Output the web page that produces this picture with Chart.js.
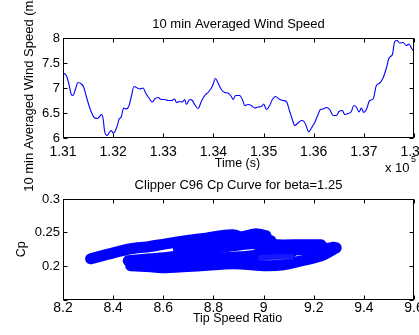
<!DOCTYPE html>
<html><head><meta charset="utf-8">
<script src="https://cdn.jsdelivr.net/npm/chart.js@4/dist/chart.umd.min.js"></script>
<style>
html,body{margin:0;padding:0;background:#fff;width:419px;height:335px;overflow:hidden;position:relative}
canvas{position:absolute;left:0}
#c1{top:0;z-index:2}
#c2{top:170px;z-index:1}
</style></head><body>
<canvas id="c2" width="419" height="165"></canvas>
<canvas id="c1" width="419" height="200"></canvas>
<script>
// ---- Top chart data: 10 min averaged wind speed ----
const windTime = [131000,131066,131113,131166,131199,131246,131299,131366,131412,131465,131545,131632,131685,131731,131765,131798,131831,131878,131931,131964,131997,132031,132077,132117,132164,132210,132263,132310,132363,132416,132463,132529,132596,132649,132715,132782,132828,132895,132961,133028,133094,133161,133227,133261,133327,133380,133427,133460,133527,133580,133626,133693,133759,133826,133892,133959,133992,134039,134092,134158,134225,134291,134358,134391,134444,134524,134577,134624,134690,134757,134823,134890,134956,135003,135056,135122,135176,135242,135309,135388,135455,135521,135574,135621,135688,135754,135807,135854,135900,135954,136020,136086,136133,136186,136253,136319,136386,136452,136505,136572,136618,136685,136751,136798,136851,136904,136951,136997,137051,137117,137184,137250,137317,137383,137450,137503,137569,137616,137662,137715,137782,137848,137902,137948,138000];
const windSpeed = [7.30,7.25,7.10,6.87,6.85,6.97,7.11,7.08,7.02,6.83,6.57,6.40,6.39,6.43,6.47,6.40,6.13,6.05,6.12,6.15,6.10,6.12,6.23,6.37,6.43,6.60,6.58,6.63,6.83,7.03,7.01,6.98,7.00,6.90,6.80,6.72,6.78,6.81,6.77,6.77,6.75,6.75,6.78,6.71,6.73,6.72,6.77,6.67,6.77,6.75,6.67,6.59,6.73,6.85,6.91,7.00,7.07,7.19,7.10,6.97,6.91,6.90,6.83,6.77,6.85,6.85,6.77,6.65,6.67,6.65,6.60,6.62,6.63,6.68,6.57,6.65,6.77,6.83,6.78,6.75,6.73,6.53,6.37,6.25,6.30,6.35,6.33,6.23,6.12,6.20,6.31,6.47,6.57,6.58,6.61,6.57,6.45,6.45,6.53,6.55,6.47,6.49,6.53,6.65,6.62,6.52,6.60,6.51,6.57,6.75,6.78,7.05,7.10,7.20,7.40,7.60,7.67,7.93,7.95,7.90,7.91,7.85,7.88,7.80,7.73];
const timeTicks = [131000,132000,133000,134000,135000,136000,137000,138000];
const speedTicks = [6,6.5,7,7.5,8];

// ---- Bottom chart data: Cp vs tip speed ratio traces ----
const tsrA = [8.31,8.40,8.47,8.54,8.61,8.69,8.75,8.83,8.88,8.91,8.97,9.01];
const cpA  = [0.2107,0.2197,0.2257,0.2287,0.2331,0.2376,0.2406,0.2452,0.2467,0.2436,0.2482,0.2452];
const tsrB = [8.46,8.55,8.63,8.69,8.75,8.85,8.95,9.05,9.15,9.23];
const cpB  = [0.2077,0.2107,0.2137,0.2182,0.2242,0.2287,0.2331,0.2316,0.2316,0.2316];
const tsrC = [8.47,8.55,8.61,8.75,8.88,9.01,9.08,9.15,9.23,9.29];
const cpC  = [0.2003,0.1988,0.1973,0.2003,0.2033,0.2003,0.2018,0.2077,0.2152,0.2272];
const tsrD = [8.55,8.69,8.81,8.91,8.99,9.11];
const cpD  = [0.2033,0.2092,0.2122,0.2137,0.2167,0.2197];
const tsrE = [8.66,8.75,8.87,8.97,9.03];
const cpE  = [0.2257,0.2316,0.2376,0.2406,0.2376];
const tsrF = [8.98,9.11,9.23,9.28];
const cpF  = [0.2197,0.2227,0.2257,0.2287];
const tsrG = [8.99,9.11];
const cpG  = [0.2122,0.2137];
const tsrTicks = [8.2,8.4,8.6,8.8,9,9.2,9.4,9.6];
const cpTicks = [0.15,0.2,0.25,0.3];

const FONT = '"Liberation Sans", Arial, Helvetica, sans-serif';
const BLUE = '#0000ff';

function pts(xs, ys){ return xs.map((x,i)=>({x:x, y:ys[i]})); }

function frameTicks(chart, len){
  const {ctx, chartArea:a, scales} = chart;
  const L = Math.round(a.left)+0.5, R = Math.round(a.right)-0.5, T = Math.round(a.top)+0.5, B = Math.round(a.bottom)-0.5;
  ctx.save();
  ctx.strokeStyle = '#000'; ctx.lineWidth = 1;
  ctx.beginPath();
  scales.x.ticks.forEach(t=>{ const p = Math.round(scales.x.getPixelForValue(t.value))+0.5; ctx.moveTo(p,B); ctx.lineTo(p,B-len); ctx.moveTo(p,T); ctx.lineTo(p,T+len); });
  scales.y.ticks.forEach(t=>{ const p = Math.round(scales.y.getPixelForValue(t.value))+0.5; ctx.moveTo(L,p); ctx.lineTo(L+len,p); ctx.moveTo(R,p); ctx.lineTo(R-len,p); });
  ctx.stroke();
  ctx.strokeRect(L, T, R-L, B-T);
  ctx.restore();
}
function txt(ctx, s, x, y, size, rot, align){
  ctx.save();
  ctx.fillStyle = '#000';
  ctx.font = size + 'px ' + FONT;
  ctx.textAlign = align || 'center';
  ctx.textBaseline = 'middle';
  ctx.translate(x, y);
  if (rot) ctx.rotate(rot);
  ctx.fillText(s, 0, 0);
  ctx.restore();
}
function fixX(h){ return function(s){ s.height = h; s.paddingLeft = 0; s.paddingRight = 0; }; }
function fixY(w){ return function(s){ s.width = w; s.paddingTop = 0; s.paddingBottom = 0; }; }
const xTickFont = {family: FONT, size: 14};
const yTickFont = {family: FONT, size: 13};
const noGrid = { display: false, drawTicks: false };

// ---- Top chart ----
new Chart(document.getElementById('c1'), {
  type: 'line',
  data: { datasets: [{ data: pts(windTime, windSpeed), borderColor: BLUE, borderWidth: 1.1, pointRadius: 0, cubicInterpolationMode: 'monotone', fill: false }] },
  options: {
    responsive: false, animation: false, devicePixelRatio: 1,
    layout: { padding: { left: 0, right: 5, top: 38, bottom: 32 } },
    plugins: { legend: { display: false }, tooltip: { enabled: false }, title: { display: false } },
    scales: {
      x: { type: 'linear', min: 131000, max: 138000,
           afterBuildTicks: s => { s.ticks = timeTicks.map(v=>({value:v})); },
           afterFit: fixX(30),
           grid: noGrid, border: { display: false },
           ticks: { font: xTickFont, color: '#000', padding: 6, maxRotation: 0, autoSkip: false,
                    callback: v => (v/1e5).toFixed(2) } },
      y: { type: 'linear', min: 6, max: 8,
           afterBuildTicks: s => { s.ticks = speedTicks.map(v=>({value:v})); },
           afterFit: fixY(63),
           grid: noGrid, border: { display: false },
           ticks: { font: yTickFont, color: '#000', padding: 3, autoSkip: false, callback: v => String(v) } }
    }
  },
  plugins: [{
    id: 'deco1',
    afterDraw(chart){
      const ctx = chart.ctx, a = chart.chartArea;
      frameTicks(chart, 4);
      const cx = (a.left + a.right)/2;
      txt(ctx, '10 min Averaged Wind Speed', cx, 24.5, 13);
      txt(ctx, 'Time (s)', cx - 1, 164, 12.5);
      txt(ctx, '10 min Averaged Wind Speed (m/s)', 29.5, (a.top + a.bottom)/2 + 1, 13, -Math.PI/2);
      txt(ctx, 'x 10', 385, 168.5, 13, 0, 'left');
      txt(ctx, '5', 411, 160, 9, 0, 'left');
    }
  }]
});

// ---- Bottom chart ----
const band = (xs, ys, w, c) => ({ data: pts(xs, ys), showLine: true, borderColor: c || BLUE, backgroundColor: c || BLUE,
  borderWidth: w, pointRadius: 0, borderCapStyle: 'round', borderJoinStyle: 'round', fill: false, tension: 0.25 });
new Chart(document.getElementById('c2'), {
  type: 'scatter',
  data: { datasets: [
    band(tsrG, cpG, 6, 'rgba(30,30,255,0.75)'),
    band(tsrA, cpA, 11), band(tsrB, cpB, 11), band(tsrC, cpC, 11),
    band(tsrD, cpD, 11), band(tsrE, cpE, 11), band(tsrF, cpF, 10)
  ] },
  options: {
    responsive: false, animation: false, devicePixelRatio: 1,
    layout: { padding: { left: 0, right: 5, top: 29, bottom: 15.5 } },
    plugins: { legend: { display: false }, tooltip: { enabled: false }, title: { display: false } },
    scales: {
      x: { type: 'linear', min: 8.2, max: 9.6,
           afterBuildTicks: s => { s.ticks = tsrTicks.map(v=>({value:v})); },
           afterFit: fixX(20),
           grid: noGrid, border: { display: false },
           ticks: { font: xTickFont, color: '#000', padding: 0, maxRotation: 0, autoSkip: false,
                    callback: v => String(Number(v.toFixed(1))) } },
      y: { type: 'linear', min: 0.15, max: 0.3,
           afterBuildTicks: s => { s.ticks = cpTicks.map(v=>({value:v})); },
           afterFit: fixY(63),
           grid: noGrid, border: { display: false },
           ticks: { font: yTickFont, color: '#000', padding: 3, autoSkip: false,
                    callback: v => (v < 0.16 ? '' : String(Number(v.toFixed(2)))) } }
    }
  },
  plugins: [{
    id: 'deco2',
    afterDraw(chart){
      const ctx = chart.ctx, a = chart.chartArea;
      frameTicks(chart, 4);
      const cx = (a.left + a.right)/2;
      txt(ctx, 'Clipper C96 Cp Curve for beta=1.25', cx, 15.6, 13);
      txt(ctx, 'Tip Speed Ratio', cx - 1, 149, 12.5);
      txt(ctx, 'Cp', 21.5, (a.top + a.bottom)/2, 12.5, -Math.PI/2);
    }
  }]
});
</script></body></html>
